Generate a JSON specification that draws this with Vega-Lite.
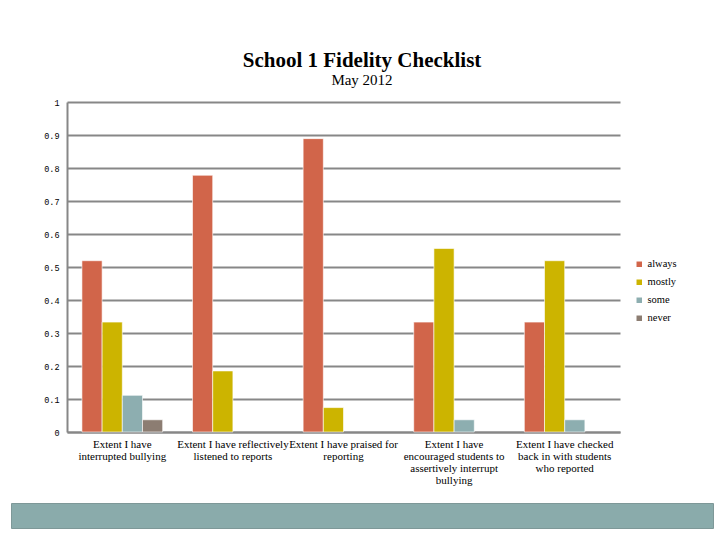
{
  "$schema": "https://vega.github.io/schema/vega-lite/v6.json",
  "padding": {"left": 10, "top": 50, "right": 8, "bottom": 10},
  "background": "white",
  "title": {
    "text": "School 1 Fidelity Checklist",
    "subtitle": "May 2012",
    "font": "Liberation Serif",
    "fontSize": 21,
    "fontWeight": "bold",
    "color": "black",
    "subtitleFont": "Liberation Serif",
    "subtitleFontSize": 15,
    "subtitleColor": "black",
    "subtitlePadding": 2,
    "offset": 10,
    "anchor": "middle"
  },
  "spacing": 17,
  "vconcat": [
    {
      "spacing": 0,
      "hconcat": [
        {
          "width": 1,
          "height": 330,
          "data": {"values": []},
          "mark": {"type": "rect"},
          "encoding": {},
          "view": {"stroke": null}
        },
        {
          "width": 553,
          "height": 330,
          "data": {
            "values": [
              {"item": "Extent I have interrupted bullying", "rating": "always", "share": 0.519},
              {"item": "Extent I have interrupted bullying", "rating": "mostly", "share": 0.333},
              {"item": "Extent I have interrupted bullying", "rating": "some", "share": 0.111},
              {"item": "Extent I have interrupted bullying", "rating": "never", "share": 0.037},
              {"item": "Extent I have reflectively listened to reports", "rating": "always", "share": 0.778},
              {"item": "Extent I have reflectively listened to reports", "rating": "mostly", "share": 0.185},
              {"item": "Extent I have praised for reporting", "rating": "always", "share": 0.889},
              {"item": "Extent I have praised for reporting", "rating": "mostly", "share": 0.074},
              {"item": "Extent I have encouraged students to assertively interrupt bullying", "rating": "always", "share": 0.333},
              {"item": "Extent I have encouraged students to assertively interrupt bullying", "rating": "mostly", "share": 0.556},
              {"item": "Extent I have encouraged students to assertively interrupt bullying", "rating": "some", "share": 0.037},
              {"item": "Extent I have checked back in with students who reported", "rating": "always", "share": 0.333},
              {"item": "Extent I have checked back in with students who reported", "rating": "mostly", "share": 0.519},
              {"item": "Extent I have checked back in with students who reported", "rating": "some", "share": 0.037}
            ]
          },
          "mark": {"type": "bar", "stroke": "white", "strokeWidth": 0.6},
          "encoding": {
            "x": {
              "field": "item",
              "type": "nominal",
              "sort": null,
              "title": null,
              "scale": {"paddingInner": 0.27, "paddingOuter": 0.135},
              "axis": {
                "labelAngle": 0,
                "ticks": false,
                "grid": false,
                "domain": true,
                "domainColor": "#878787",
                "domainWidth": 2,
                "labelFont": "Liberation Serif",
                "labelFontSize": 11,
                "labelColor": "black",
                "labelLineHeight": 12,
                "labelPadding": 6,
                "labelLimit": 0,
                "labelExpr": "datum.value == 'Extent I have interrupted bullying' ? ['Extent I have', 'interrupted bullying'] : datum.value == 'Extent I have reflectively listened to reports' ? ['Extent I have reflectively', 'listened to reports'] : datum.value == 'Extent I have praised for reporting' ? ['Extent I have praised for', 'reporting'] : datum.value == 'Extent I have encouraged students to assertively interrupt bullying' ? ['Extent I have', 'encouraged students to', 'assertively interrupt', 'bullying'] : ['Extent I have checked', 'back in with students', 'who reported']"
              }
            },
            "xOffset": {
              "field": "rating",
              "type": "nominal",
              "sort": ["always", "mostly", "some", "never"],
              "scale": {"domain": ["always", "mostly", "some", "never"], "paddingInner": 0, "paddingOuter": 0}
            },
            "y": {
              "field": "share",
              "type": "quantitative",
              "title": null,
              "scale": {"domain": [0, 1], "nice": false},
              "axis": {
                "values": [0, 0.1, 0.2, 0.3, 0.4, 0.5, 0.6, 0.7, 0.8, 0.9, 1],
                "format": ".1~f",
                "ticks": false,
                "grid": true,
                "gridColor": "#878787",
                "gridWidth": 2,
                "domain": true,
                "domainColor": "#878787",
                "domainWidth": 2,
                "labelFont": "Liberation Mono",
                "labelFontSize": 8.5,
                "labelColor": "black",
                "labelPadding": 8,
                "minExtent": 55
              }
            },
            "color": {
              "field": "rating",
              "type": "nominal",
              "sort": ["always", "mostly", "some", "never"],
              "scale": {"domain": ["always", "mostly", "some", "never"], "range": ["#D1654A", "#CCB400", "#8DAEB0", "#8C7D72"]},
              "legend": {
                "title": null,
                "orient": "none",
                "legendX": 623,
                "legendY": 157,
                "symbolType": "square",
                "symbolSize": 30,
                "symbolStrokeWidth": 0,
                "labelFont": "Liberation Serif",
                "labelFontSize": 10.5,
                "labelColor": "black",
                "rowPadding": 7,
                "labelOffset": 3
              }
            }
          },
          "view": {"stroke": null}
        }
      ]
    },
    {
      "width": 702,
      "height": 25,
      "data": {"values": []},
      "mark": {"type": "rect"},
      "encoding": {},
      "view": {"fill": "#8AABAB", "stroke": "#7E9898"}
    }
  ]
}
